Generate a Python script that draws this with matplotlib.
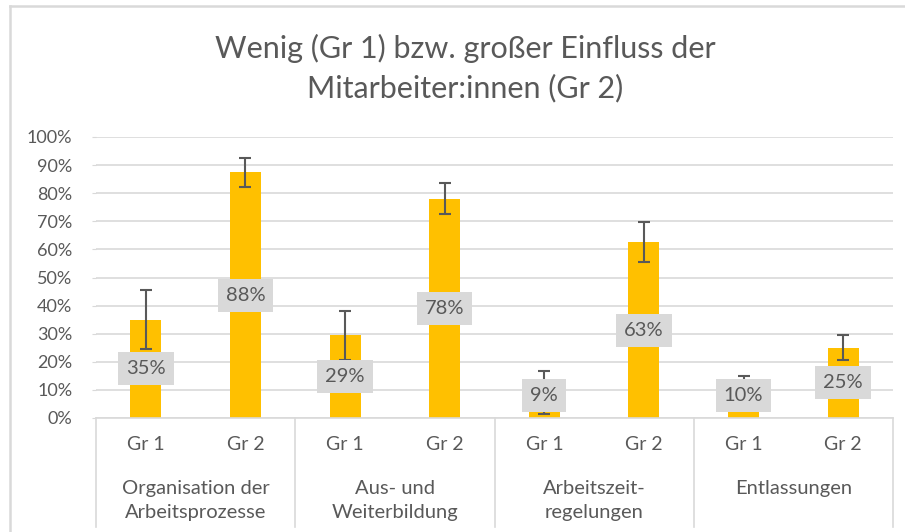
import matplotlib
matplotlib.use("Agg")
import matplotlib.pyplot as plt
from matplotlib.lines import Line2D
from matplotlib.ticker import PercentFormatter

plt.rcParams['font.family'] = ['Lato', 'DejaVu Sans']

title = "Wenig (Gr 1) bzw. großer Einfluss der\nMitarbeiter:innen (Gr 2)"
categories = ["Organisation der\nArbeitsprozesse", "Aus- und\nWeiterbildung",
              "Arbeitszeit-\nregelungen", "Entlassungen"]
sub_labels = ["Gr 1", "Gr 2"]
values = [0.35, 0.875, 0.295, 0.78, 0.09, 0.625, 0.10, 0.25]
errors = [0.104, 0.052, 0.087, 0.055, 0.077, 0.071, 0.048, 0.044]
value_labels = ["35%", "88%", "29%", "78%", "9%", "63%", "10%", "25%"]
yticks = [0.0, 0.1, 0.2, 0.3, 0.4, 0.5, 0.6, 0.7, 0.8, 0.9, 1.0]

W, H = 905, 532
fig = plt.figure(figsize=(W / 100, H / 100), dpi=100)
ax_l, ax_r, ax_t, ax_b = 96, 893, 137, 418
ax = fig.add_axes([ax_l / W, 1 - ax_b / H, (ax_r - ax_l) / W, (ax_b - ax_t) / H])

grey = '#D9D9D9'
txt = '#595959'

n = len(values)
x = list(range(n))
ax.bar(x, values, width=0.31, color='#FFC000', zorder=2)
ax.errorbar(x, values, yerr=errors, fmt='none', ecolor='#595959',
            elinewidth=1.5, capsize=4, capthick=1.5, zorder=3)

for xi, v, lab in zip(x, values, value_labels):
    ax.text(xi, max(v / 2, 0.08), lab, ha='center', va='center', fontsize=14.5,
            color=txt, zorder=4,
            bbox=dict(boxstyle='square,pad=0.4', fc=grey, ec='none'))

ax.set_xlim(-0.5, n - 0.5)
ax.set_ylim(0, 1.0)
ax.set_yticks(yticks)
ax.yaxis.set_major_formatter(PercentFormatter(1.0, decimals=0))
ax.tick_params(axis='y', length=3, color=grey, pad=14, labelsize=13, labelcolor=txt)
ax.set_xticks([])
ax.grid(axis='y', color=grey, linewidth=1.2, zorder=0)
ax.set_axisbelow(True)
for s in ['top', 'right', 'left']:
    ax.spines[s].set_visible(False)
ax.spines['bottom'].set_color(grey)
ax.spines['bottom'].set_linewidth(1.2)

ax_h = ax_b - ax_t
trans = ax.get_xaxis_transform()
# sub-category labels
for i in range(n):
    ax.text(i, -27 / ax_h, sub_labels[i % 2], transform=trans, ha='center', va='center',
            fontsize=14, color=txt)
# group labels
ng = len(categories)
for g, cat in enumerate(categories):
    ax.text(2 * g + 0.5, -62 / ax_h, cat, transform=trans, ha='center', va='top',
            fontsize=14.5, color=txt, linespacing=1.5)
# group separators
for g in range(ng + 1):
    ax.add_line(Line2D([2 * g - 0.5, 2 * g - 0.5], [0, -109 / ax_h], transform=trans,
                       color=grey, linewidth=1.2, clip_on=False))

fig.text(465 / W, 1 - 68 / H, title, ha='center', va='center', fontsize=22,
         color=txt, linespacing=1.45)

# chart border (left and top visible)
fig.add_artist(Line2D([10 / W, 10 / W], [0, 1 - 6 / H], transform=fig.transFigure,
                      color=grey, linewidth=1.8))
fig.add_artist(Line2D([10 / W, 1], [1 - 6 / H, 1 - 6 / H], transform=fig.transFigure,
                      color=grey, linewidth=1.8))

fig.savefig('out.png', dpi=100)
